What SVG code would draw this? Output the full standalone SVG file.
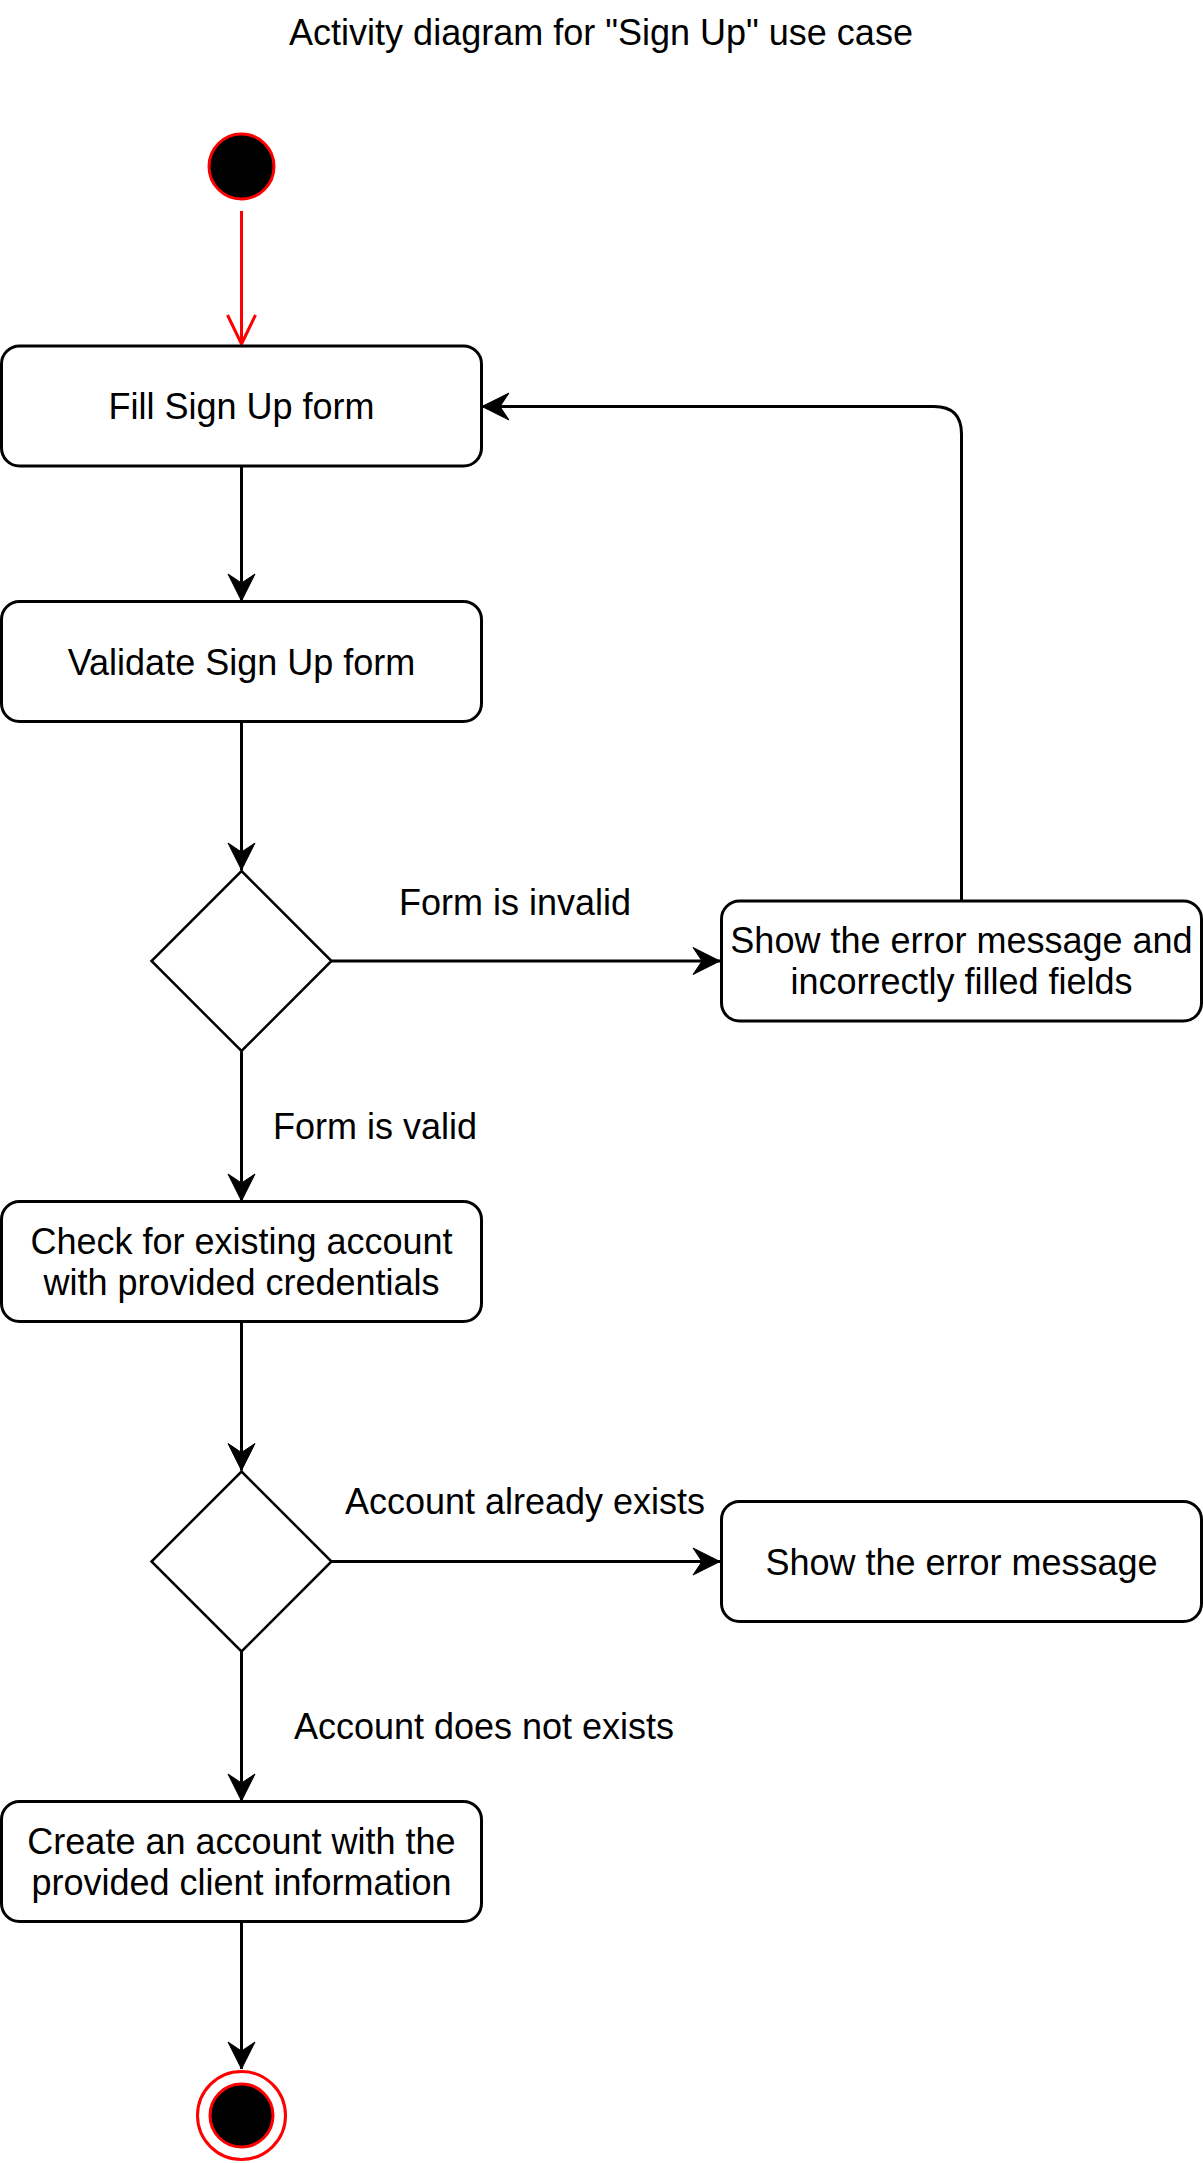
<svg xmlns="http://www.w3.org/2000/svg" width="1203" height="2163" viewBox="0 0 1203 2163">
<style>
text{font-family:"Liberation Sans",Arial,Helvetica,sans-serif;font-size:36px;fill:#000;text-anchor:middle}
.box{fill:#fff;stroke:#000;stroke-width:3}
.dia{fill:#fff;stroke:#000;stroke-width:2.5}
.edge{fill:none;stroke:#000;stroke-width:3;marker-end:url(#arr)}
</style>
<defs>
<marker id="arr" markerUnits="userSpaceOnUse" markerWidth="40" markerHeight="40" refX="0" refY="0" orient="auto" overflow="visible">
<path d="M0,0 L-27,-13.5 L-18,0 L-27,13.5 Z" fill="#000" stroke="#000" stroke-width="1"/>
</marker>
<marker id="open" markerUnits="userSpaceOnUse" markerWidth="40" markerHeight="40" refX="0" refY="0" orient="auto" overflow="visible">
<path d="M-29,-14 L0,0 L-29,14" fill="none" stroke="#ff0000" stroke-width="3"/>
</marker>
</defs>
<rect width="1203" height="2163" fill="#fff"/>
<text id="title" x="601" y="45">Activity diagram for "Sign Up" use case</text>

<g id="edges">
<line x1="241.5" y1="211" x2="241.5" y2="344" fill="none" stroke="#ff0000" stroke-width="3" marker-end="url(#open)"/>
<line class="edge" x1="241.5" y1="466" x2="241.5" y2="601"/>
<line class="edge" x1="241.5" y1="721.5" x2="241.5" y2="870"/>
<line class="edge" x1="331.5" y1="961" x2="720" y2="961"/>
<path class="edge" d="M961.5,901 L961.5,434 Q961.5,406.5 934,406.5 L482,406.5"/>
<line class="edge" x1="241.5" y1="1051.5" x2="241.5" y2="1201"/>
<line class="edge" x1="241.5" y1="1321.5" x2="241.5" y2="1470.5"/>
<line class="edge" x1="331.5" y1="1561.5" x2="720" y2="1561.5"/>
<line class="edge" x1="241.5" y1="1651.5" x2="241.5" y2="1801"/>
<line class="edge" x1="241.5" y1="1921.5" x2="241.5" y2="2069"/>
<text x="515" y="915">Form is invalid</text>
<text x="375" y="1139">Form is valid</text>
<text x="525" y="1514">Account already exists</text>
<text x="484" y="1739">Account does not exists</text>
</g>

<g id="start">
<circle cx="241.5" cy="166.5" r="32.5" fill="#000" stroke="#ff0000" stroke-width="3"/>
</g>

<g id="fill">
<rect class="box" x="1.5" y="346" width="480" height="120" rx="18"/>
<text x="241.5" y="419">Fill Sign Up form</text>
</g>

<g id="validate">
<rect class="box" x="1.5" y="601.5" width="480" height="120" rx="18"/>
<text x="241.5" y="674.5">Validate Sign Up form</text>
</g>

<g id="decision1">
<polygon class="dia" points="241.5,871 331.5,961 241.5,1051 151.5,961"/>
</g>

<g id="error1">
<rect class="box" x="721.5" y="901" width="480" height="120" rx="18"/>
<text x="961.5" y="953">Show the error message and</text>
<text x="961.5" y="994">incorrectly filled fields</text>
</g>

<g id="check">
<rect class="box" x="1.5" y="1201.5" width="480" height="120" rx="18"/>
<text x="241.5" y="1253.5">Check for existing account</text>
<text x="241.5" y="1294.5">with provided credentials</text>
</g>

<g id="decision2">
<polygon class="dia" points="241.5,1471.5 331.5,1561.5 241.5,1651.5 151.5,1561.5"/>
</g>

<g id="error2">
<rect class="box" x="721.5" y="1501.5" width="480" height="120" rx="18"/>
<text x="961.5" y="1574.5">Show the error message</text>
</g>

<g id="create">
<rect class="box" x="1.5" y="1801.5" width="480" height="120" rx="18"/>
<text x="241.5" y="1853.5">Create an account with the</text>
<text x="241.5" y="1894.5">provided client information</text>
</g>

<g id="end">
<circle cx="241.5" cy="2115.5" r="44" fill="#fff" stroke="#ff0000" stroke-width="3"/>
<circle cx="241.5" cy="2115.5" r="31.5" fill="#000" stroke="#ff0000" stroke-width="3"/>
</g>
</svg>
